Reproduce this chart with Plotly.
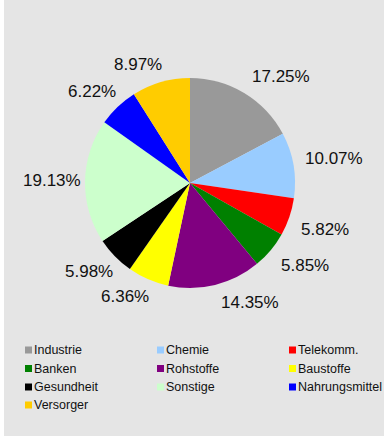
import math
import plotly.graph_objects as go

categories = ["Industrie", "Chemie", "Telekomm.", "Banken", "Rohstoffe",
              "Baustoffe", "Gesundheit", "Sonstige", "Nahrungsmittel", "Versorger"]
values = [17.25, 10.07, 5.82, 5.85, 14.35, 6.36, 5.98, 19.13, 6.22, 8.97]
colors = ["#999999", "#99ccff", "#ff0000", "#008000", "#800080",
          "#ffff00", "#000000", "#ccffcc", "#0000ff", "#ffcc00"]

W, H = 384, 436
CX, CY, R = 190, 183, 105
LABEL_GAP = 8
LABEL_DX = 4
LABEL_SIZE = 17
FONT = "Liberation Sans, Arial, Helvetica, sans-serif"

def px(x):
    return x / W

def py(y):
    return 1 - y / H

fig = go.Figure(go.Pie(
    labels=categories, values=values, sort=False, direction="clockwise",
    rotation=0, marker=dict(colors=colors, line=dict(width=0)),
    textinfo="none", showlegend=False, hoverinfo="label+percent",
    domain=dict(x=[px(CX - R), px(CX + R)], y=[py(CY + R), py(CY - R)]),
))

shapes = [dict(type="rect", xref="paper", yref="paper", x0=px(4), x1=1, y0=0, y1=1,
               fillcolor="#e5e5e5", line=dict(width=0), layer="below")]
annotations = []

total = sum(values)
cum = 0.0
for v in values:
    mid = (cum + v / 2) / total * 2 * math.pi
    cum += v
    ux, uy = math.sin(mid), -math.cos(mid)
    txt = f"{v:.2f}%"
    ndig = sum(ch.isdigit() for ch in txt)
    hw = (ndig * 0.556 + 0.278 + 0.889) * LABEL_SIZE / 2
    hh = 10
    s = R + LABEL_GAP
    lx = CX + s * ux + hw * (1 if ux >= 0 else -1) + LABEL_DX
    ly = CY + s * uy + hh * max(-1.0, min(1.0, uy * 3))
    annotations.append(dict(x=px(lx), y=py(ly), xref="paper", yref="paper",
                            text=txt, showarrow=False,
                            xanchor="center", yanchor="middle",
                            font=dict(family=FONT, size=LABEL_SIZE, color="#111111")))

col_x = [25, 157, 289]
row_y = [350, 368.5, 387, 405]
for i, (name, c) in enumerate(zip(categories, colors)):
    cx = col_x[i % 3]
    cy = row_y[i // 3]
    shapes.append(dict(type="rect", xref="paper", yref="paper",
                       x0=px(cx), x1=px(cx + 7), y0=py(cy + 3.5), y1=py(cy - 3.5),
                       fillcolor=c, line=dict(width=0)))
    annotations.append(dict(x=px(cx + 6.5), y=py(cy), xref="paper", yref="paper",
                            text=name, showarrow=False, xanchor="left", yanchor="middle",
                            font=dict(family=FONT, size=12.5, color="#111111")))

fig.update_layout(
    width=W, height=H, margin=dict(l=0, r=0, t=0, b=0),
    paper_bgcolor="#ffffff", plot_bgcolor="#ffffff",
    shapes=shapes, annotations=annotations, showlegend=False,
)

fig.write_html("out.html")
